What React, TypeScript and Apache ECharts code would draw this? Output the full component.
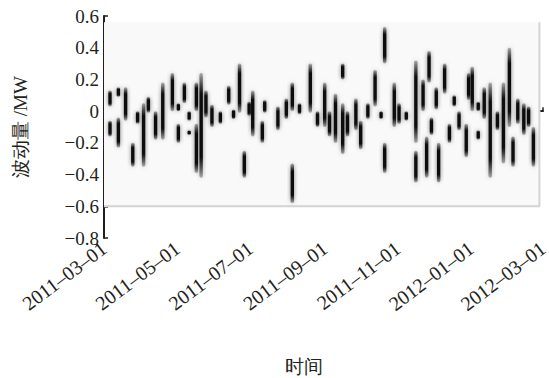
import React, { useEffect, useRef } from "react";
import * as echarts from "echarts";

// Streaks: date, lower value, upper value (MW)
const streakDates = [
  "2011-03-06", "2011-03-06", "2011-03-13", "2011-03-13", "2011-03-19", "2011-03-25", "2011-03-29",
  "2011-04-03", "2011-04-07", "2011-04-13", "2011-04-19", "2011-04-27",
  "2011-05-02", "2011-05-02", "2011-05-07", "2011-05-11", "2011-05-11", "2011-05-17", "2011-05-17",
  "2011-05-21", "2011-05-25", "2011-05-30", "2011-06-06", "2011-06-13", "2011-06-17", "2011-06-22",
  "2011-06-26", "2011-06-30", "2011-07-03", "2011-07-11", "2011-07-13", "2011-07-24", "2011-07-31",
  "2011-08-05", "2011-08-05", "2011-08-11", "2011-08-20", "2011-08-26",
  "2011-09-01", "2011-09-05", "2011-09-10", "2011-09-16", "2011-09-16", "2011-09-20", "2011-09-27",
  "2011-10-01", "2011-10-07", "2011-10-13", "2011-10-18", "2011-10-21", "2011-10-21", "2011-10-29",
  "2011-11-02", "2011-11-08", "2011-11-16", "2011-11-16", "2011-11-22", "2011-11-25", "2011-11-27",
  "2011-11-29", "2011-12-03", "2011-12-05", "2011-12-10", "2011-12-14", "2011-12-18", "2011-12-22",
  "2011-12-28", "2011-12-30",
  "2012-01-02", "2012-01-07", "2012-01-07", "2012-01-12", "2012-01-17", "2012-01-23", "2012-01-28",
  "2012-02-02", "2012-02-05", "2012-02-09", "2012-02-14", "2012-02-18", "2012-02-22",
];
const streakLow = [
  0.03, -0.16, 0.09, -0.23, -0.06, -0.35, -0.08,
  -0.35, -0.01, -0.18, -0.18, 0,
  0, -0.2, 0.05, -0.06, -0.15, 0, -0.39,
  -0.42, -0.04, -0.1, -0.08, 0.04, -0.05, -0.01,
  -0.42, -0.03, -0.16, -0.2, -0.01, -0.12, -0.05,
  0, -0.58, -0.02, -0.01, -0.1,
  -0.1, -0.16, -0.2, 0.2, -0.27, -0.16, -0.12,
  -0.24, -0.05, 0.03, -0.05, 0.3, -0.39, -0.1,
  -0.08, -0.06, -0.2, -0.45, 0, -0.42, 0.18,
  -0.15, 0.01, -0.45, 0.11, -0.2, 0.03, -0.12,
  -0.29, 0.07,
  0, 0, -0.18, -0.05, -0.42, -0.12, -0.33,
  -0.1, -0.35, -0.08, -0.15, -0.1, -0.35,
];
const streakHigh = [
  0.13, -0.06, 0.15, -0.04, 0.15, -0.2, 0,
  0.05, 0.09, 0, 0.18, 0.24,
  0.05, -0.08, 0.18, 0, -0.12, 0.18, -0.08,
  0.24, 0.13, 0.04, 0, 0.16, 0.01, 0.3,
  -0.25, 0.06, 0.13, -0.06, 0.07, 0.03, 0.08,
  0.18, -0.33, 0.05, 0.3, 0,
  0.18, 0, 0.11, 0.3, 0.05, 0, 0.08,
  -0.06, 0.05, 0.26, 0, 0.53, -0.2, 0.18,
  0.05, 0, 0.32, -0.25, 0.2, -0.16, 0.38,
  -0.04, 0.15, -0.2, 0.3, -0.08, 0.1, 0,
  -0.08, 0.24,
  0.28, 0.06, -0.12, 0.15, 0.18, 0, 0.18,
  0.4, -0.16, 0.08, 0.05, 0.03, -0.1,
];

const yTicks = { min: -0.8, max: 0.6, interval: 0.2 };
const startDate = "2011-03-01";
const endDate = "2012-03-01";
const frameEndDate = "2012-02-27";
const frameTop = 0.56;
const frameBottom = -0.6;
const xAxisName = "时间";
const yAxisName = "波动量 /MW";

function buildDays(start: string, end: string): string[] {
  const out: string[] = [];
  const d = new Date(start + "T00:00:00Z");
  const e = new Date(end + "T00:00:00Z");
  while (d.getTime() <= e.getTime()) {
    out.push(d.toISOString().slice(0, 10));
    d.setUTCDate(d.getUTCDate() + 1);
  }
  return out;
}

const isLabelDay = (_i: number, v: string) => {
  if (!v.endsWith("-01")) return false;
  const m = parseInt(v.slice(5, 7), 10);
  return m % 2 === 1;
};

export default function App() {
  const ref = useRef<HTMLDivElement>(null);
  useEffect(() => {
    if (!ref.current) return;
    const chart = echarts.init(ref.current, undefined, { renderer: "svg" });
    const days = buildDays(startDate, endDate);
    const data = streakDates.map((d, i) => [d, streakLow[i], streakHigh[i]]);
    const font = "serif";
    const ink = "#231f20";
    const streakFill = new echarts.graphic.LinearGradient(0, 0, 0, 1, [
      { offset: 0, color: "rgba(20,20,20,0.3)" },
      { offset: 0.2, color: "#111111" },
      { offset: 0.8, color: "#111111" },
      { offset: 1, color: "rgba(20,20,20,0.3)" },
    ]);
    chart.setOption({
      animation: false,
      backgroundColor: "#fff",
      textStyle: { fontFamily: font },
      grid: {
        left: 104,
        top: 16,
        width: 439,
        height: 222,
        containLabel: false,
        outerBoundsMode: "none",
      },
      xAxis: {
        type: "category",
        data: days,
        boundaryGap: false,
        name: xAxisName,
        nameLocation: "middle",
        nameGap: 119,
        nameTextStyle: { fontFamily: font, fontSize: 19, color: ink, padding: [0, 40, 0, 0] },
        axisLine: { lineStyle: { color: ink, width: 2 } },
        axisTick: { interval: isLabelDay, inside: true, length: 4, lineStyle: { color: ink, width: 1.5 } },
        axisLabel: {
          interval: isLabelDay,
          rotate: 37,
          margin: 8,
          fontFamily: font,
          fontSize: 20,
          color: ink,
          formatter: (v: string) => v.replace(/-/g, "–"),
        },
        splitLine: { show: false },
      },
      yAxis: {
        type: "value",
        min: yTicks.min,
        max: yTicks.max,
        interval: yTicks.interval,
        name: yAxisName,
        nameLocation: "middle",
        nameGap: 74,
        nameRotate: 90,
        nameTextStyle: { fontFamily: font, fontSize: 19, color: ink },
        axisLine: { show: true, lineStyle: { color: ink, width: 2 } },
        axisTick: { show: true, inside: true, length: 4, lineStyle: { color: ink, width: 1.5 } },
        axisLabel: {
          margin: 5,
          fontFamily: font,
          fontSize: 19,
          color: ink,
          formatter: (v: number) => {
            const r = Math.round(v * 10) / 10;
            return r === 0 ? "0" : String(r).replace("-", "−");
          },
        },
        splitLine: { show: false },
      },
      series: [
        {
          type: "line",
          data: [[startDate, frameBottom], [frameEndDate, frameBottom], [frameEndDate, frameTop]],
          symbol: "none",
          lineStyle: { color: "#d4d4d4", width: 2 },
          silent: true,
          z: 1,
          markArea: {
            silent: true,
            itemStyle: { color: "#f9f9f9" },
            data: [[{ coord: [startDate, frameTop] }, { coord: [frameEndDate, frameBottom] }]],
          },
        },
        {
          type: "custom",
          data,
          encode: { x: 0, y: [1, 2] },
          renderItem: (params: any, api: any) => {
            const lo = api.coord([api.value(0), api.value(1)]);
            const hi = api.coord([api.value(0), api.value(2)]);
            const w = 3.4;
            return {
              type: "rect",
              shape: { x: lo[0] - w / 2, y: hi[1], width: w, height: Math.max(4, lo[1] - hi[1]), r: 1.7 },
              style: { fill: streakFill, shadowBlur: 4, shadowColor: "rgba(0,0,0,0.5)" },
            };
          },
          z: 3,
        },
      ],
    });
    return () => chart.dispose();
  }, []);
  return <div ref={ref} style={{ width: 549, height: 378, position: "absolute", left: 0, top: 0 }} />;
}
